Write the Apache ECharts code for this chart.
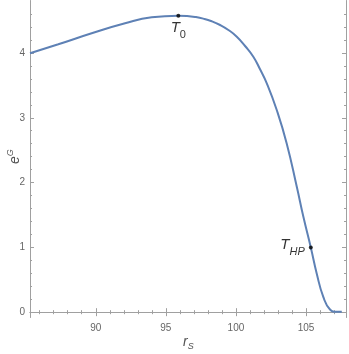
<!DOCTYPE html>
<html>
<head>
<meta charset="utf-8">
<script src="https://cdn.jsdelivr.net/npm/echarts@6/dist/echarts.min.js"></script>
<style>
html,body{margin:0;padding:0;background:#fff;}
#c{width:349px;height:354px;}
</style>
</head>
<body>
<div id="c"></div>
<script>
// curve samples (r_S, e^G)
const rS = [85.31, 87.33, 89.71, 92.09, 93.99, 95.89, 96.49, 97.08, 97.67, 98.27, 98.87, 99.46, 100.06, 100.65, 101.24, 101.72, 102.20, 102.91, 103.62, 104.34, 104.81, 105.34, 105.76, 106.23, 106.71, 107.19, 107.55];
const eG = [3.995, 4.134, 4.304, 4.459, 4.551, 4.576, 4.571, 4.556, 4.530, 4.490, 4.432, 4.355, 4.252, 4.108, 3.943, 3.748, 3.532, 3.120, 2.605, 1.935, 1.472, 0.999, 0.598, 0.236, 0.042, 0.005, 0.005];
// marked points
const pointX = [95.89, 105.34];
const pointY = [4.576, 1.0];
const pointNames = ['T0', 'THP'];
// ticks
const xMajor = [90, 95, 100, 105];
const xMinor = [86, 87, 88, 89, 91, 92, 93, 94, 96, 97, 98, 99, 101, 102, 103, 104, 106, 107];
const yMajor = [0, 1, 2, 3, 4];
const yMinor = [0.2, 0.4, 0.6, 0.8, 1.2, 1.4, 1.6, 1.8, 2.2, 2.4, 2.6, 2.8, 3.2, 3.4, 3.6, 3.8, 4.2, 4.4, 4.6];

const X_MIN = 85.31, X_MAX = 107.85, Y_MIN = -0.082, Y_MAX = 4.81;
const axisColor = '#a0a0a0';
const labelColor = '#666';
const font = 'Liberation Sans';

function xAx(pos, vals, len, showLine, showLabel) {
  return {
    type: 'value', position: pos, min: X_MIN, max: X_MAX,
    axisLine: {show: showLine, lineStyle: {color: axisColor, width: 1}},
    axisTick: {show: true, inside: true, length: len, customValues: vals, lineStyle: {color: axisColor}},
    axisLabel: {show: showLabel, customValues: vals, color: labelColor, fontSize: 10, fontFamily: font, margin: 6},
    splitLine: {show: false}
  };
}
function yAx(pos, vals, len, showLine, showLabel) {
  return {
    type: 'value', position: pos, min: Y_MIN, max: Y_MAX,
    axisLine: {show: showLine, lineStyle: {color: axisColor, width: 1}},
    axisTick: {show: true, inside: true, length: len, customValues: vals, lineStyle: {color: axisColor}},
    axisLabel: {show: showLabel, customValues: vals, color: labelColor, fontSize: 10, fontFamily: font, margin: 5},
    splitLine: {show: false}
  };
}

const chart = echarts.init(document.getElementById('c'), null, {renderer: 'canvas'});
const curve = rS.map((x, i) => [x, eG[i]]);
const labelPos = [{position: 'bottom', distance: 3}, {position: 'left', distance: 4}];
const pts = pointX.map((x, i) => ({value: [x, pointY[i]], name: pointNames[i], label: labelPos[i]}));

chart.setOption({
  animation: false,
  grid: {left: 30, right: 3, top: 0.5, bottom: 36.5, containLabel: false},
  xAxis: [
    xAx('bottom', xMajor, 4, true, true),
    xAx('bottom', xMinor, 2, false, false),
    xAx('top', xMajor, 4, true, false),
    xAx('top', xMinor, 2, false, false)
  ],
  yAxis: [
    yAx('left', yMajor, 4, true, true),
    yAx('left', yMinor, 2, false, false),
    yAx('right', yMajor, 4, true, false),
    yAx('right', yMinor, 2, false, false)
  ],
  series: [
    {
      type: 'line', data: curve, smooth: 0.5, showSymbol: false,
      lineStyle: {color: '#5E81B5', width: 2}, z: 2
    },
    {
      type: 'scatter', data: pts, symbolSize: 4, itemStyle: {color: '#000'}, z: 3,
      label: {
        show: true, color: '#000', fontFamily: font,
        formatter: p => p.name === 'T0' ? '{t|T}{s|0}' : '{t|T}{si|HP}',
        rich: {
          t: {fontSize: 15, fontStyle: 'italic', fontFamily: font, lineHeight: 20, verticalAlign: 'top'},
          s: {fontSize: 11, fontFamily: font, lineHeight: 11, verticalAlign: 'bottom'},
          si: {fontSize: 11, fontStyle: 'italic', fontFamily: font, lineHeight: 11, verticalAlign: 'bottom'}
        }
      },
      emphasis: {disabled: true}
    }
  ],
  graphic: [
    {
      type: 'text', left: 183, top: 335,
      style: {
        text: '{r|r}{s|S}', fill: '#555',
        rich: {
          r: {fontSize: 14, fontStyle: 'italic', fontFamily: font, lineHeight: 16, verticalAlign: 'top', fill: '#555'},
          s: {fontSize: 9, fontStyle: 'italic', fontFamily: font, lineHeight: 9, verticalAlign: 'bottom', fill: '#555'}
        }
      }
    },
    {
      type: 'text', x: 6, y: 164, rotation: Math.PI / 2,
      style: {
        text: '{e|e}{g|G}', fill: '#555',
        rich: {
          e: {fontSize: 14, fontStyle: 'italic', fontFamily: font, lineHeight: 16, verticalAlign: 'bottom', fill: '#555'},
          g: {fontSize: 9, fontStyle: 'italic', fontFamily: font, lineHeight: 9, verticalAlign: 'top', fill: '#555'}
        }
      }
    }
  ]
});
</script>
</body>
</html>
